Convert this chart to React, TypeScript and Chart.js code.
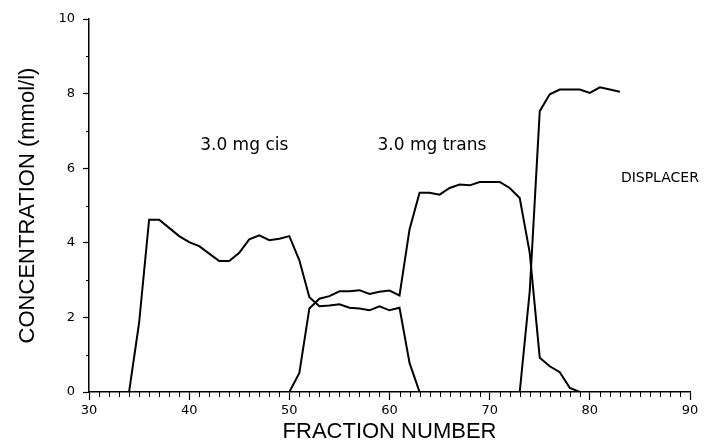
import React, { useEffect, useRef } from "react";
import { Chart, registerables } from "chart.js";

Chart.register(...registerables);

// ---- data ----
const cisFractions = [30, 34, 35, 36, 37, 38, 39, 40, 41, 42, 43, 44, 45, 46, 47, 48, 49, 50, 51, 52, 53, 54, 55, 56, 57, 58, 59, 60, 61, 62, 63];
const cisConc = [0, 0, 1.85, 4.62, 4.62, 4.4, 4.18, 4.02, 3.91, 3.71, 3.51, 3.51, 3.73, 4.09, 4.2, 4.07, 4.11, 4.18, 3.53, 2.54, 2.3, 2.32, 2.35, 2.26, 2.24, 2.19, 2.3, 2.19, 2.26, 0.78, 0];

const transFractions = [50, 51, 52, 53, 54, 55, 56, 57, 58, 59, 60, 61, 62, 63, 64, 65, 66, 67, 68, 69, 70, 71, 72, 73, 74, 75, 76, 77, 78, 79];
const transConc = [0, 0.51, 2.24, 2.5, 2.57, 2.7, 2.7, 2.73, 2.63, 2.69, 2.72, 2.59, 4.36, 5.34, 5.34, 5.29, 5.47, 5.56, 5.54, 5.63, 5.63, 5.63, 5.47, 5.2, 3.73, 0.92, 0.69, 0.53, 0.11, 0];

const displacerFractions = [73, 74, 75, 76, 77, 78, 79, 80, 81, 82, 83];
const displacerConc = [0, 2.7, 7.53, 7.98, 8.11, 8.11, 8.11, 8.02, 8.17, 8.11, 8.05];

const seriesNames = ["3.0 mg cis", "3.0 mg trans", "DISPLACER"];
// label anchors in data units (fraction, concentration)
const labelFraction = [41.1, 58.8, 83.1];
const labelConc = [6.5, 6.5, 5.62];

const xTitle = "FRACTION NUMBER";
const yTitle = "CONCENTRATION (mmol/l)";

const toPoints = (xs: number[], ys: number[]) => xs.map((x, i) => ({ x, y: ys[i] }));

const minorTicksPlugin = {
  id: "minorTicks",
  afterDraw(chart: any) {
    const { ctx, scales } = chart;
    const x = scales.x;
    const y = scales.y;
    ctx.save();
    ctx.strokeStyle = "#000";
    ctx.lineWidth = 1;
    ctx.beginPath();
    for (let v = 31; v < 90; v++) {
      if (v % 10 === 0) continue;
      const px = Math.round(x.getPixelForValue(v)) + 0.5;
      ctx.moveTo(px, x.top);
      ctx.lineTo(px, x.top + 5);
    }
    for (let v = 1; v < 10; v += 2) {
      const py = Math.round(y.getPixelForValue(v)) + 0.5;
      ctx.moveTo(y.right - 3, py);
      ctx.lineTo(y.right, py);
    }
    ctx.stroke();
    ctx.restore();
  },
};

const labelsPlugin = {
  id: "seriesLabels",
  afterDraw(chart: any) {
    const { ctx, scales } = chart;
    ctx.save();
    ctx.fillStyle = "#000";
    ctx.textAlign = "left";
    ctx.textBaseline = "alphabetic";
    seriesNames.forEach((name, i) => {
      ctx.font = (i === 2 ? "14px" : "17px") + ' "DejaVu Sans", sans-serif';
      ctx.fillText(name, scales.x.getPixelForValue(labelFraction[i]), scales.y.getPixelForValue(labelConc[i]));
    });
    ctx.restore();
  },
};

export default function App() {
  const canvasRef = useRef<HTMLCanvasElement | null>(null);

  useEffect(() => {
    if (!canvasRef.current) return;
    const line = (label: string, xs: number[], ys: number[]) => ({
      label,
      data: toPoints(xs, ys),
      borderColor: "#000",
      backgroundColor: "#000",
      borderWidth: 2,
      pointRadius: 0,
      tension: 0,
      fill: false,
    });
    const chart = new Chart(canvasRef.current, {
      type: "line",
      data: {
        datasets: [
          line(seriesNames[0], cisFractions, cisConc),
          line(seriesNames[1], transFractions, transConc),
          line(seriesNames[2], displacerFractions, displacerConc),
        ],
      },
      options: {
        animation: false,
        responsive: false,
        layout: { padding: { top: 19, right: 18, left: 0, bottom: 0 } },
        plugins: {
          legend: { display: false },
          tooltip: { enabled: false },
        },
        scales: {
          x: {
            type: "linear",
            min: 30,
            max: 90,
            ticks: {
              stepSize: 10,
              color: "#000",
              padding: 3,
              maxRotation: 0,
              font: { family: '"DejaVu Sans", sans-serif', size: 13 },
            },
            grid: { drawOnChartArea: false, drawTicks: true, tickLength: 8, tickColor: "#000", tickWidth: 1.2 },
            border: { display: true, color: "#000", width: 1.5 },
            title: {
              display: true,
              text: xTitle,
              color: "#000",
              padding: { top: 0, bottom: 0 },
              font: { family: '"Liberation Sans", sans-serif', size: 22 },
            },
            afterFit(scale: any) {
              scale.height = 53;
            },
          },
          y: {
            type: "linear",
            min: 0,
            max: 10,
            ticks: {
              stepSize: 2,
              color: "#000",
              padding: 8,
              font: { family: '"DejaVu Sans", sans-serif', size: 13 },
            },
            grid: { drawOnChartArea: false, drawTicks: true, tickLength: 6, tickColor: "#000", tickWidth: 1.2 },
            border: { display: true, color: "#000", width: 1.5 },
            title: {
              display: true,
              text: yTitle,
              color: "#000",
              padding: { top: 15, bottom: 0 },
              font: { family: '"Liberation Sans", sans-serif', size: 22 },
            },
            afterFit(scale: any) {
              scale.width = 89;
            },
          },
        },
      },
      plugins: [minorTicksPlugin, labelsPlugin],
    } as any);
    return () => chart.destroy();
  }, []);

  return (
    <div style={{ position: "fixed", left: 0, top: 0, width: 708, height: 445, background: "#fff" }}>
      <canvas ref={canvasRef} width={708} height={445} style={{ display: "block" }} />
    </div>
  );
}
